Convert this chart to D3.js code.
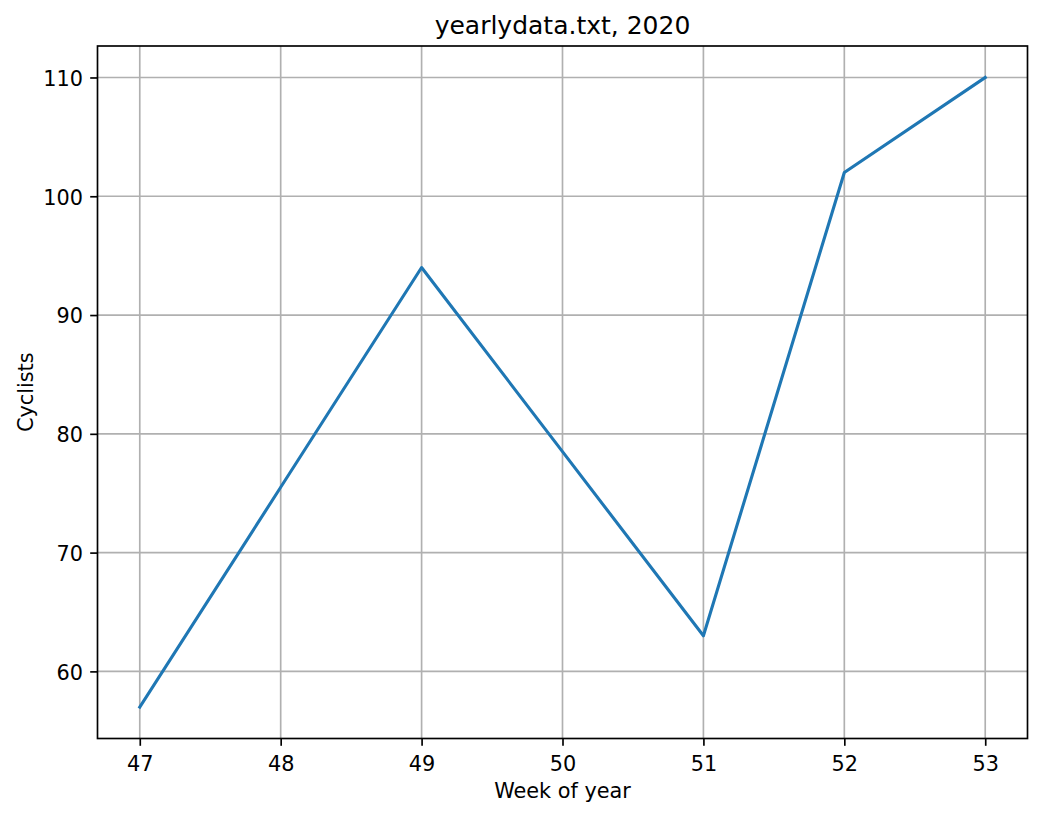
<!DOCTYPE html>
<html>
<head>
<meta charset="utf-8">
<script src="https://cdn.jsdelivr.net/npm/d3@7"></script>
<style>
  body { margin: 0; background: #fff; }
  svg { display: block; font-family: 'DejaVu Sans', sans-serif; }
</style>
</head>
<body>
<div id="graf"></div>
<script>
// !DATOS
const semanas = [47, 48, 49, 50, 51, 52, 53]
const ciclistas = [57, 75.5, 94, 78.5, 63, 102, 110]
const ticksX = [47, 48, 49, 50, 51, 52, 53]
const ticksY = [60, 70, 80, 90, 100, 110]
const titulo = 'yearlydata.txt, 2020'
const etiquetaX = 'Week of year'
const etiquetaY = 'Cyclists'

const anchoTotal = 1042
const altoTotal = 817

const margin = { top: 46, bottom: 78.5, left: 97.5, right: 14.5 }
const ancho = anchoTotal - margin.left - margin.right
const alto = altoTotal - margin.top - margin.bottom

const svg = d3
  .select('#graf')
  .append('svg')
  .attr('width', anchoTotal)
  .attr('height', altoTotal)

const g = svg
  .append('g')
  .attr('transform', `translate(${margin.left}, ${margin.top})`)

// !ESCALADORES (margen de 5% como matplotlib)
const [xMin, xMax] = d3.extent(semanas)
const [yMin, yMax] = d3.extent(ciclistas)
const padX = (xMax - xMin) * 0.05
const padY = (yMax - yMin) * 0.05

const x = d3.scaleLinear().domain([xMin - padX, xMax + padX]).range([0, ancho])
const y = d3.scaleLinear().domain([yMin - padY, yMax + padY]).range([alto, 0])

// !REJILLA
g.append('g')
  .selectAll('line')
  .data(ticksX)
  .join('line')
  .attr('x1', (d) => x(d))
  .attr('x2', (d) => x(d))
  .attr('y1', 0)
  .attr('y2', alto)
  .attr('stroke', '#b0b0b0')
  .attr('stroke-width', 1.67)

g.append('g')
  .selectAll('line')
  .data(ticksY)
  .join('line')
  .attr('x1', 0)
  .attr('x2', ancho)
  .attr('y1', (d) => y(d))
  .attr('y2', (d) => y(d))
  .attr('stroke', '#b0b0b0')
  .attr('stroke-width', 1.67)

// !LINEA
const linea = d3
  .line()
  .x((d, i) => x(semanas[i]))
  .y((d) => y(d))

g.append('path')
  .datum(ciclistas)
  .attr('d', linea)
  .attr('fill', 'none')
  .attr('stroke', '#1f77b4')
  .attr('stroke-width', 3.1)
  .attr('stroke-linejoin', 'round')
  .attr('stroke-linecap', 'square')

// !EJES
const ejeX = g
  .append('g')
  .attr('transform', `translate(0, ${alto})`)
  .call(d3.axisBottom(x).tickValues(ticksX).tickSize(7.3).tickPadding(7.3).tickFormat(d3.format('d')))

const ejeY = g
  .append('g')
  .call(d3.axisLeft(y).tickValues(ticksY).tickSize(7.3).tickPadding(7.3).tickFormat(d3.format('d')))

;[ejeX, ejeY].forEach((eje) => {
  eje.select('.domain').remove()
  eje.selectAll('line').attr('stroke', '#000').attr('stroke-width', 1.67)
  eje.selectAll('text')
    .attr('fill', '#000')
    .style('font-family', 'DejaVu Sans, sans-serif')
    .style('font-size', '20.8px')
})

ejeX.selectAll('text').attr('dy', null).attr('y', 32.2)
ejeY.selectAll('text').attr('dy', null).attr('y', 7.8)

// marco
g.append('rect')
  .attr('x', 0)
  .attr('y', 0)
  .attr('width', ancho)
  .attr('height', alto)
  .attr('fill', 'none')
  .attr('stroke', '#000')
  .attr('stroke-width', 1.67)

// !TEXTOS
svg.append('text')
  .attr('x', margin.left + ancho / 2)
  .attr('y', 33.5)
  .attr('text-anchor', 'middle')
  .style('font-size', '25px')
  .text(titulo)

svg.append('text')
  .attr('x', margin.left + ancho / 2)
  .attr('y', 798)
  .attr('text-anchor', 'middle')
  .style('font-size', '20.8px')
  .text(etiquetaX)

svg.append('text')
  .attr('transform', `translate(33, ${margin.top + alto / 2}) rotate(-90)`)
  .attr('text-anchor', 'middle')
  .style('font-size', '20.8px')
  .text(etiquetaY)
</script>
</body>
</html>
